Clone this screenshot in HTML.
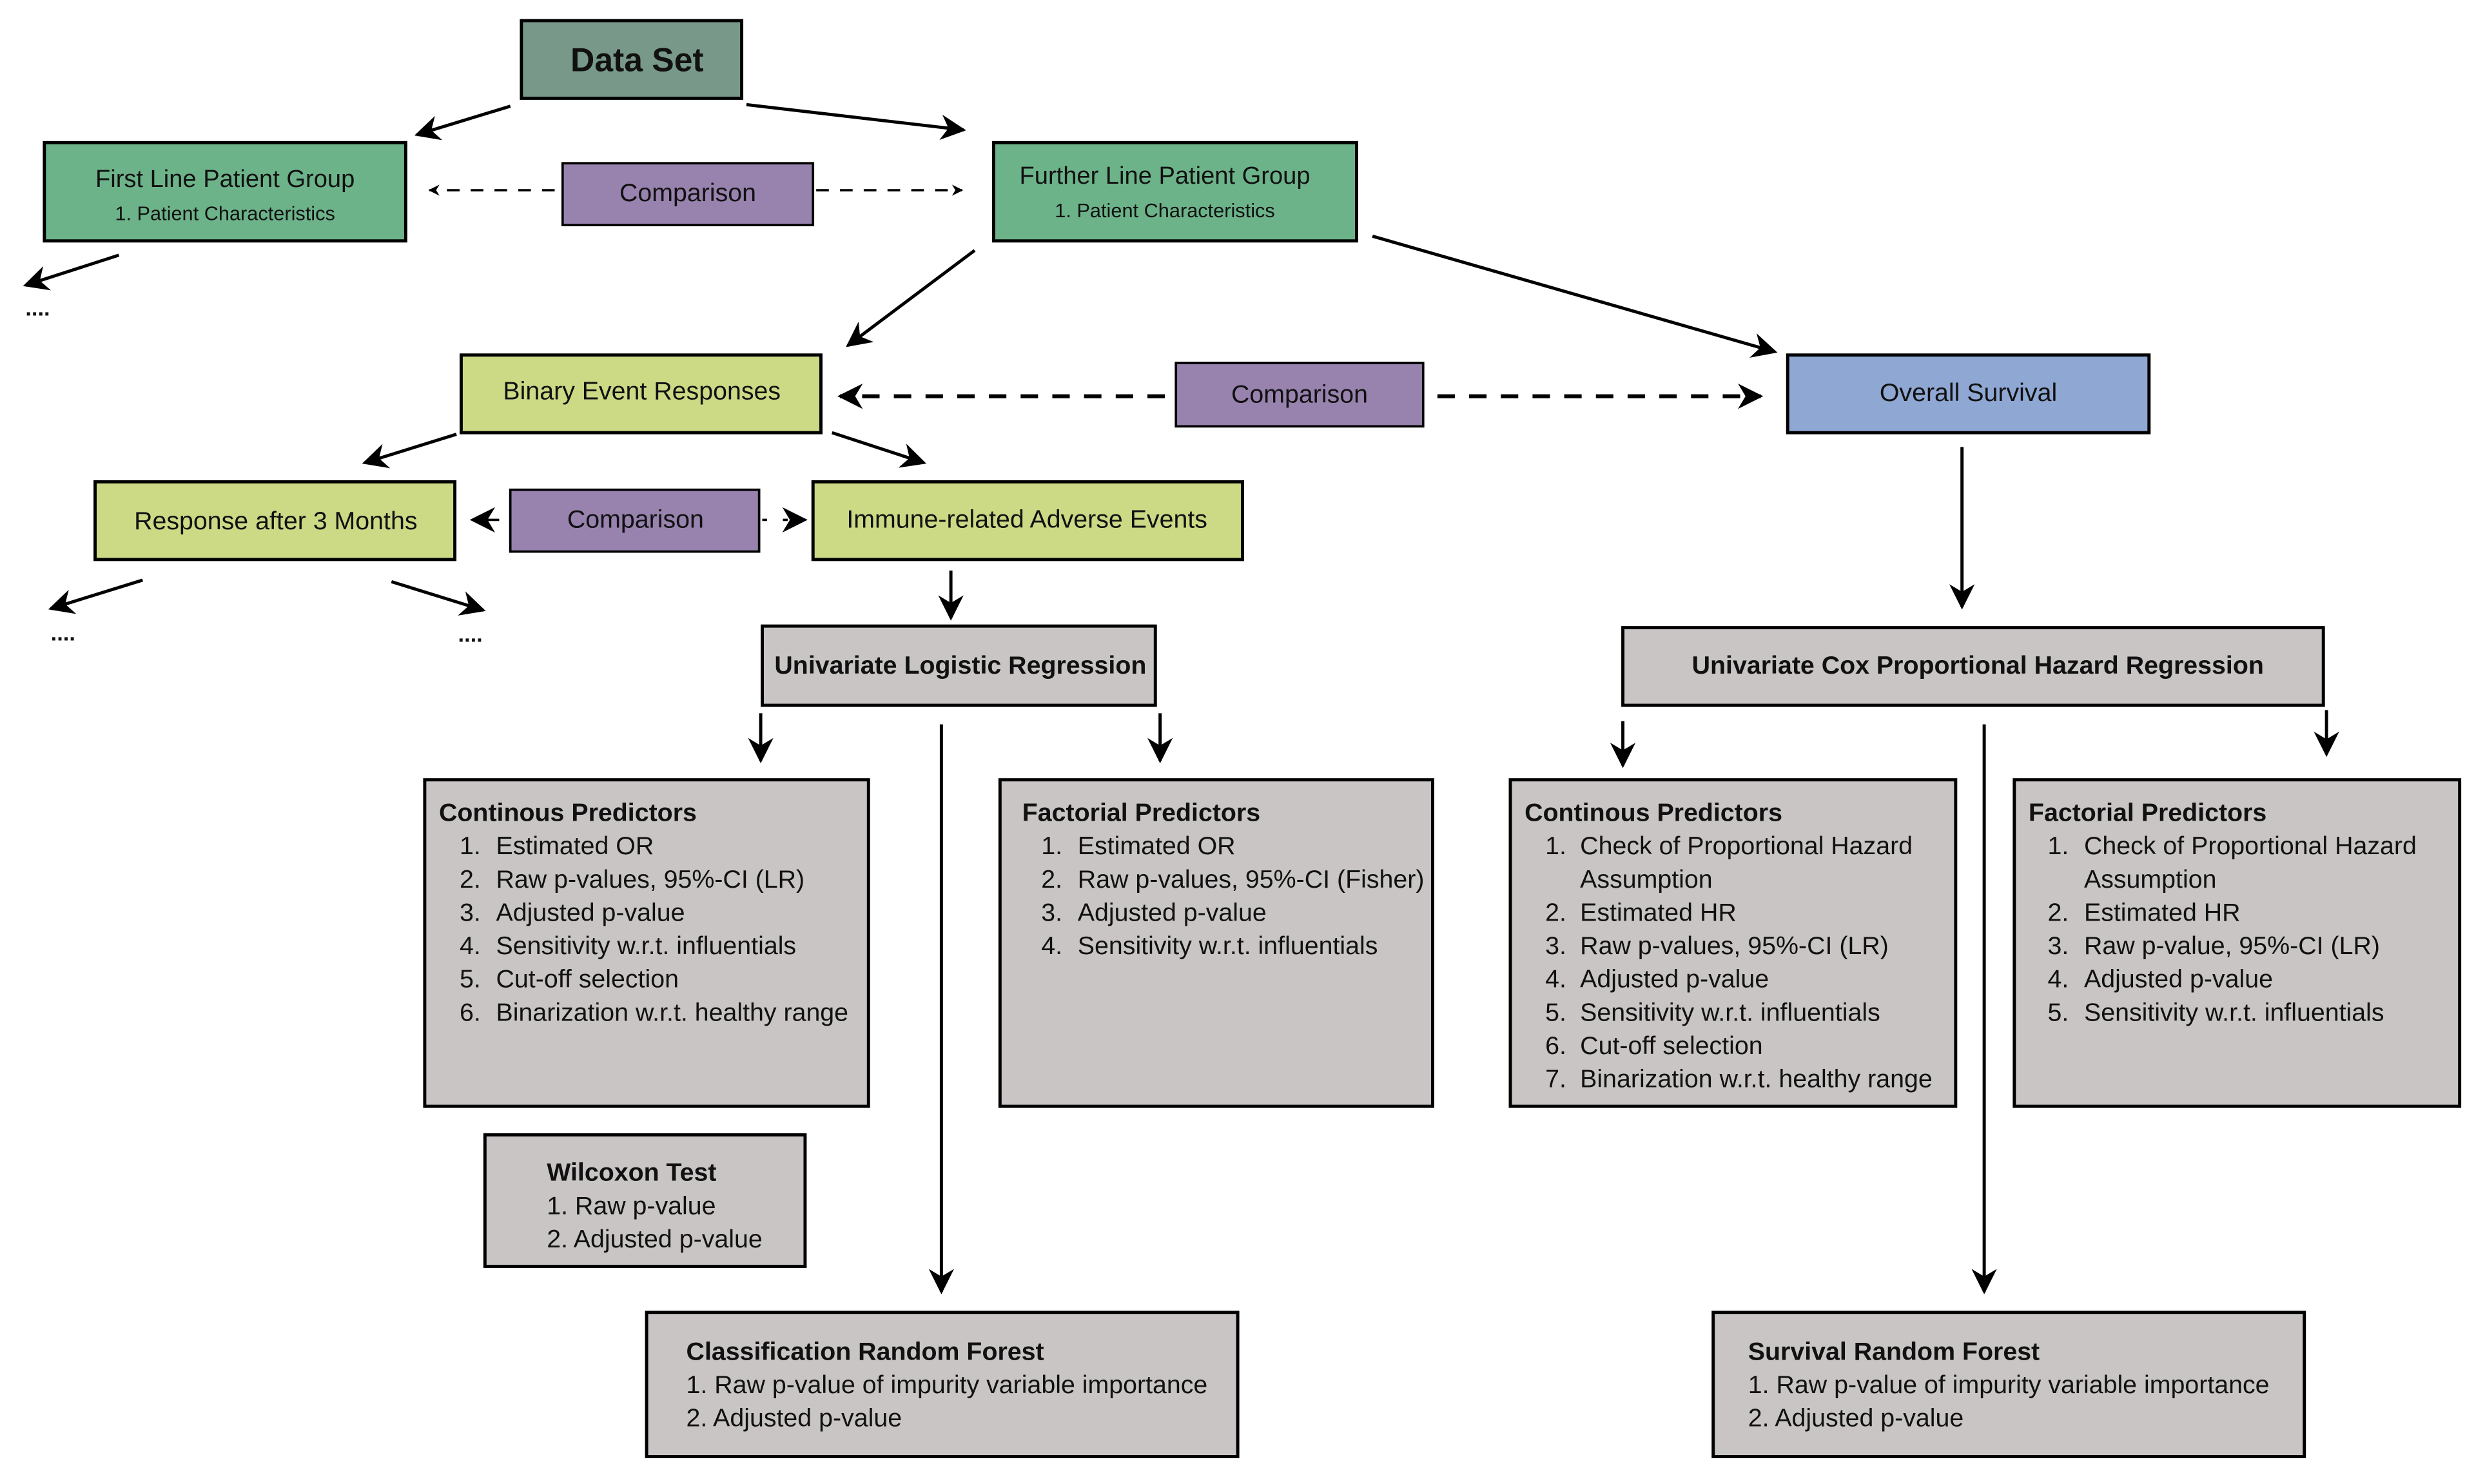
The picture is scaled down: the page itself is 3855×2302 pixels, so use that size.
<!DOCTYPE html>
<html><head><meta charset="utf-8"><style>
html,body{margin:0;padding:0;background:#fff}
svg{display:block}
text{font-family:"Liberation Sans Narrow","Liberation Sans",sans-serif;fill:#111}
.b{font-weight:bold}
</style></head><body>
<svg width="3855" height="2302" viewBox="0 0 1568 936.3" preserveAspectRatio="none" xmlns="http://www.w3.org/2000/svg">
<defs>
<marker id="a" viewBox="0 0 10 10" refX="9" refY="5" markerWidth="7" markerHeight="7" orient="auto" markerUnits="userSpaceOnUse">
<path d="M0,0 L10,5 L0,10 L3,5 z" fill="#000"/></marker>
<marker id="a2" viewBox="0 0 10 10" refX="9" refY="5" markerWidth="16" markerHeight="16" orient="auto" markerUnits="userSpaceOnUse">
<path d="M0,0 L10,5 L0,10 L3,5 z" fill="#000"/></marker>
</defs>
<g stroke="#000" stroke-width="2">
<rect x="329" y="13" width="139" height="49" fill="#78998a"/>
<rect x="28" y="90" width="228" height="62" fill="#6db38a"/>
<rect x="627" y="90" width="229" height="62" fill="#6db38a"/>
<rect x="355" y="103" width="158" height="39" fill="#9882ae" stroke-width="1.5"/>
<rect x="291" y="224" width="227" height="49" fill="#ccd985"/>
<rect x="742" y="229" width="156" height="40" fill="#9882ae" stroke-width="1.5"/>
<rect x="1128" y="224" width="228" height="49" fill="#8fa7d3"/>
<rect x="60" y="304" width="227" height="49" fill="#ccd985"/>
<rect x="322" y="309" width="157" height="39" fill="#9882ae" stroke-width="1.5"/>
<rect x="513" y="304" width="271" height="49" fill="#ccd985"/>
<rect x="481" y="395" width="248" height="50" fill="#c8c5c4"/>
<rect x="1024" y="396" width="442" height="49" fill="#c8c5c4"/>
<rect x="268" y="492" width="280" height="206" fill="#c8c5c4"/>
<rect x="631" y="492" width="273" height="206" fill="#c8c5c4"/>
<rect x="953" y="492" width="281" height="206" fill="#c8c5c4"/>
<rect x="1271" y="492" width="281" height="206" fill="#c8c5c4"/>
<rect x="306" y="716" width="202" height="83" fill="#c8c5c4"/>
<rect x="408" y="828" width="373" height="91" fill="#c8c5c4"/>
<rect x="1081" y="828" width="373" height="91" fill="#c8c5c4"/>
</g>
<g stroke="#000" stroke-width="2" fill="none" marker-end="url(#a2)">
<line x1="322" y1="67" x2="263" y2="85"/>
<line x1="471" y1="66" x2="608" y2="82"/>
<line x1="75" y1="161" x2="16" y2="180"/>
<line x1="615" y1="158" x2="535" y2="218"/>
<line x1="866" y1="149" x2="1120" y2="222"/>
<line x1="288" y1="274" x2="230" y2="292"/>
<line x1="525" y1="273" x2="583" y2="292"/>
<line x1="90" y1="366" x2="32" y2="384"/>
<line x1="247" y1="367" x2="305" y2="385"/>
<line x1="600" y1="360" x2="600" y2="390"/>
<line x1="1238" y1="282" x2="1238" y2="383"/>
<line x1="480" y1="450" x2="480" y2="480"/>
<line x1="732" y1="450" x2="732" y2="480"/>
<line x1="594" y1="457" x2="594" y2="815"/>
<line x1="1024" y1="455" x2="1024" y2="483"/>
<line x1="1468" y1="448" x2="1468" y2="476"/>
<line x1="1252" y1="457" x2="1252" y2="815"/>
</g>
<g stroke="#000" stroke-width="1.5" fill="none" stroke-dasharray="8,7" marker-end="url(#a)">
<line x1="350" y1="120" x2="271" y2="120"/>
<line x1="515" y1="120" x2="607" y2="120"/>
</g>
<g stroke="#000" stroke-width="2.5" fill="none" stroke-dasharray="11,9" marker-end="url(#a2)">
<line x1="735" y1="250" x2="530" y2="250"/>
<line x1="907" y1="250" x2="1111" y2="250"/>
</g>
<g stroke="#000" stroke-width="1.5" fill="none" marker-end="url(#a2)">
<line x1="315" y1="328" x2="298" y2="328"/>
<line x1="481" y1="328" x2="508" y2="328" stroke-dasharray="3,10"/>
</g>
<g class="b" font-size="14">
<text x="16" y="199">....</text><text x="32" y="404">....</text><text x="289" y="405">....</text>
</g>
<text x="402" y="45" text-anchor="middle" font-size="21" class="b">Data Set</text>
<text x="142" y="118" text-anchor="middle" font-size="15.5">First Line Patient Group</text>
<text x="142" y="139" text-anchor="middle" font-size="12.5">1. Patient Characteristics</text>
<text x="735" y="116" text-anchor="middle" font-size="15.5">Further Line Patient Group</text>
<text x="735" y="137" text-anchor="middle" font-size="12.5">1. Patient Characteristics</text>
<g font-size="16" text-anchor="middle">
<text x="434" y="127">Comparison</text>
<text x="820" y="254">Comparison</text>
<text x="401" y="333">Comparison</text>
<text x="405" y="252">Binary Event Responses</text>
<text x="1242" y="253">Overall Survival</text>
<text x="174" y="334">Response after 3 Months</text>
<text x="648" y="333">Immune-related Adverse Events</text>
<text x="606" y="425" class="b">Univariate Logistic Regression</text>
<text x="1248" y="425" class="b">Univariate Cox Proportional Hazard Regression</text>
</g>
<g font-size="16">
<text x="277" y="518" class="b">Continous Predictors</text>
<text x="290" y="539">1.</text><text x="313" y="539">Estimated OR</text>
<text x="290" y="560">2.</text><text x="313" y="560">Raw p-values, 95%-CI (LR)</text>
<text x="290" y="581">3.</text><text x="313" y="581">Adjusted p-value</text>
<text x="290" y="602">4.</text><text x="313" y="602">Sensitivity w.r.t. influentials</text>
<text x="290" y="623">5.</text><text x="313" y="623">Cut-off selection</text>
<text x="290" y="644">6.</text><text x="313" y="644">Binarization w.r.t. healthy range</text>

<text x="645" y="518" class="b">Factorial Predictors</text>
<text x="657" y="539">1.</text><text x="680" y="539">Estimated OR</text>
<text x="657" y="560">2.</text><text x="680" y="560">Raw p-values, 95%-CI (Fisher)</text>
<text x="657" y="581">3.</text><text x="680" y="581">Adjusted p-value</text>
<text x="657" y="602">4.</text><text x="680" y="602">Sensitivity w.r.t. influentials</text>

<text x="962" y="518" class="b">Continous Predictors</text>
<text x="975" y="539">1.</text><text x="997" y="539">Check of Proportional Hazard</text>
<text x="997" y="560">Assumption</text>
<text x="975" y="581">2.</text><text x="997" y="581">Estimated HR</text>
<text x="975" y="602">3.</text><text x="997" y="602">Raw p-values, 95%-CI (LR)</text>
<text x="975" y="623">4.</text><text x="997" y="623">Adjusted p-value</text>
<text x="975" y="644">5.</text><text x="997" y="644">Sensitivity w.r.t. influentials</text>
<text x="975" y="665">6.</text><text x="997" y="665">Cut-off selection</text>
<text x="975" y="686">7.</text><text x="997" y="686">Binarization w.r.t. healthy range</text>

<text x="1280" y="518" class="b">Factorial Predictors</text>
<text x="1292" y="539">1.</text><text x="1315" y="539">Check of Proportional Hazard</text>
<text x="1315" y="560">Assumption</text>
<text x="1292" y="581">2.</text><text x="1315" y="581">Estimated HR</text>
<text x="1292" y="602">3.</text><text x="1315" y="602">Raw p-value, 95%-CI (LR)</text>
<text x="1292" y="623">4.</text><text x="1315" y="623">Adjusted p-value</text>
<text x="1292" y="644">5.</text><text x="1315" y="644">Sensitivity w.r.t. influentials</text>

<text x="345" y="745" class="b">Wilcoxon Test</text>
<text x="345" y="766">1. Raw p-value</text>
<text x="345" y="787">2. Adjusted p-value</text>

<text x="433" y="858" class="b">Classification Random Forest</text>
<text x="433" y="879">1. Raw p-value of impurity variable importance</text>
<text x="433" y="900">2. Adjusted p-value</text>

<text x="1103" y="858" class="b">Survival Random Forest</text>
<text x="1103" y="879">1. Raw p-value of impurity variable importance</text>
<text x="1103" y="900">2. Adjusted p-value</text>
</g>
</svg>
</body></html>
